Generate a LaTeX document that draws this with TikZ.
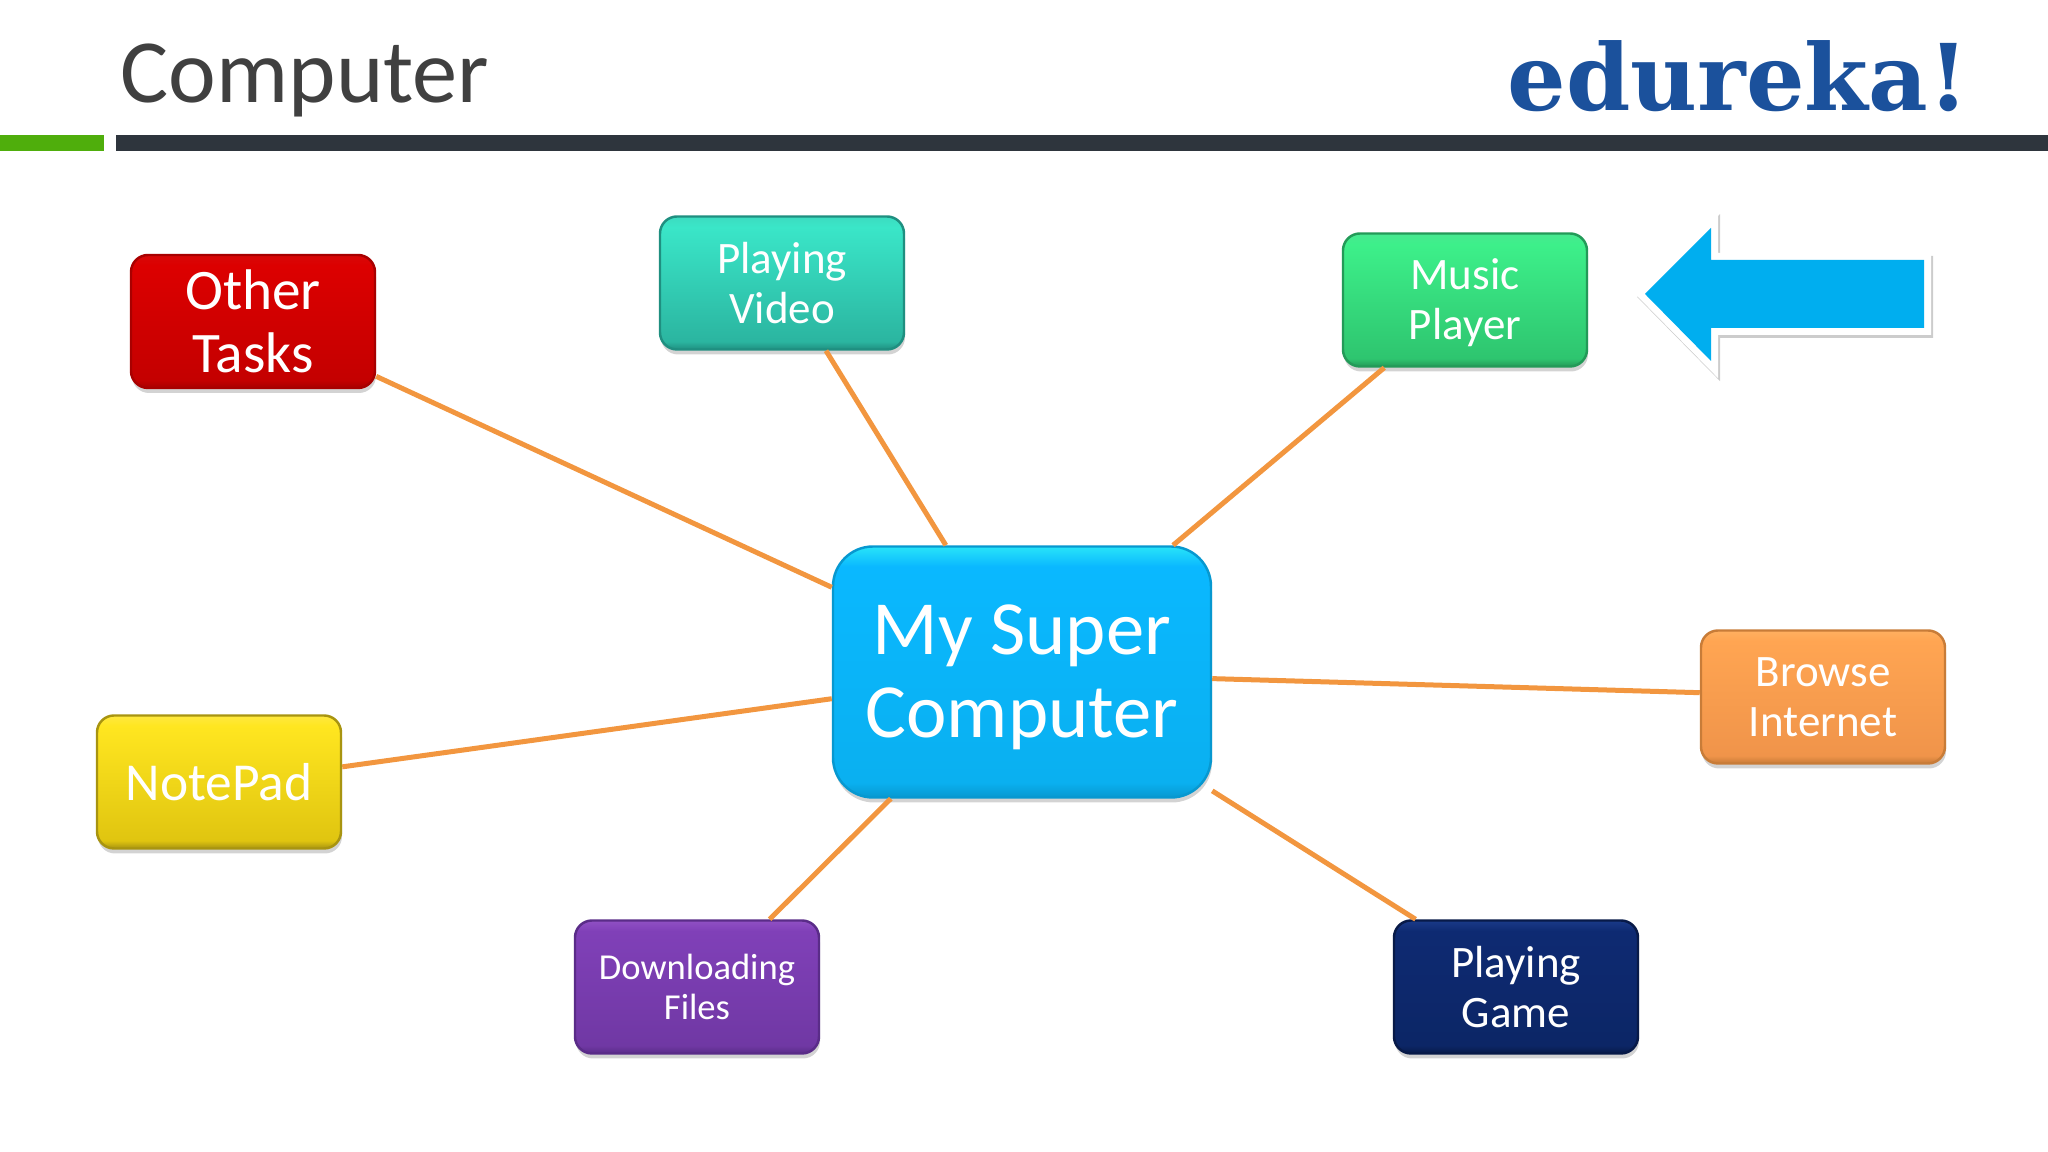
\documentclass[tikz,border=0pt]{standalone}
\usepackage{fontspec}
\usepackage{tikz}
\usetikzlibrary{shadows}
\setmainfont{Carlito}
\newfontfamily\logofont{DejaVu Serif Bold}
\definecolor{titlegray}{HTML}{404040}
\definecolor{barnavy}{HTML}{2E353D}
\definecolor{bargreen}{HTML}{4FAE0C}
\definecolor{logoblue}{HTML}{1B519C}
\definecolor{wire}{HTML}{F2963F}
\definecolor{pointer}{HTML}{00AEEF}
\colorlet{glossbot}{black}
\colorlet{glosslow}{gray}
\colorlet{glosshigh}{gray}
\colorlet{glossrim}{white}
\pgfdeclareverticalshading[glossbot,glosslow,glosshigh,glossrim]{gloss}{100bp}{color(0bp)=(glossbot); color(25bp)=(glossbot); color(28bp)=(glosslow); color(71bp)=(glosshigh); color(75bp)=(glossrim); color(100bp)=(glossrim)}
\tikzset{tint/.code args={#1/#2/#3/#4}{\definecolor{glossbot}{HTML}{#1}\definecolor{glosslow}{HTML}{#2}\definecolor{glosshigh}{HTML}{#3}\definecolor{glossrim}{HTML}{#4}}}
\newcommand{\boxfont}[2]{\fontsize{#1}{#2}\selectfont}

\begin{document}
\begin{tikzpicture}
\tikzstyle{box}=[rectangle, rounded corners=.17cm, minimum width=2.44cm, minimum height=1.33cm, inner sep=0pt, text=white, align=center, draw=glossbot, line width=.7pt, shading=gloss, drop shadow={shadow xshift=.01cm, shadow yshift=-.05cm, opacity=.35}, font=\boxfont{12.8}{14.2}]
\tikzstyle{wirestyle}=[wire, line width=.05cm]
\useasboundingbox (0,0) rectangle (20.48,11.52);
\node (title) [anchor=base west, text=titlegray, font=\boxfont{25.7}{30}, inner sep=0pt] at (1.20,10.49) {Computer};
\node (logo) [anchor=base west, text=logoblue, font=\logofont\boxfont{26.2}{30}, inner sep=0pt] at (15.07,10.41) {edureka!};
\fill [bargreen] (0,10.01) rectangle (1.04,10.17);
\fill [barnavy] (1.16,10.01) rectangle (20.48,10.17);
\node (other) [box, tint={A80000/C40000/DC0000/D80808}, font=\boxfont{16.3}{17.8}] at (2.53,8.305) {Other\\Tasks};
\node (video) [box, tint={1F8F80/2BB5A0/3AE6C8/3CDCC0}] at (7.82,8.69) {Playing\\Video};
\node (music) [box, tint={239A58/2EC56F/3DF08A/48E890}] at (14.65,8.52) {\rule{0pt}{.36cm}Music\\Player};
\node (super) [box, tint={0798D0/0AB0F0/0AB8FF/28E4F8}, rounded corners=.4cm, minimum width=3.78cm, minimum height=2.51cm, font=\boxfont{21.8}{23.7}] at (10.22,4.80) {\rule{0pt}{.6cm}My Super\\Computer};
\node (browse) [box, tint={C87C38/F0944A/FFA552/FFB060}] at (18.23,4.55) {Browse\\Internet};
\node (notepad) [box, tint={A89410/E0C510/FFE620/FFE840}, font=\boxfont{15.2}{17}] at (2.19,3.70) {NotePad};
\node (files) [box, tint={5A2C88/7038A4/8040B8/9050C4}, font=\boxfont{10.4}{11.5}] at (6.97,1.65) {Downloading\\Files};
\node (game) [box, tint={081A48/0C2666/0E2A72/1A3A88}] at (15.16,1.65) {Playing\\Game};
\draw [wirestyle] (other.-24.7) -- (super.156.5);
\draw [wirestyle] (video.-57.5) -- (super.121.4);
\draw [wirestyle] (music.220.1) -- (super.40.5);
\draw [wirestyle] (browse.178.2) -- (super.-2);
\draw [wirestyle] (notepad.7.9) -- (super.188.2);
\draw [wirestyle] (files.43.9) -- (super.224.3);
\draw [wirestyle] (game.146.7) -- (super.-32.2);
\draw [fill=pointer, draw=none, preaction={draw=black!20, line width=.14cm, transform canvas={xshift=.02cm, yshift=-.03cm}}, preaction={draw=white, line width=.14cm}] (16.45,8.58) -- (17.11,9.24) -- (17.11,8.92) -- (19.24,8.92) -- (19.24,8.24) -- (17.11,8.24) -- (17.11,7.91) -- cycle;
\end{tikzpicture}
\end{document}
